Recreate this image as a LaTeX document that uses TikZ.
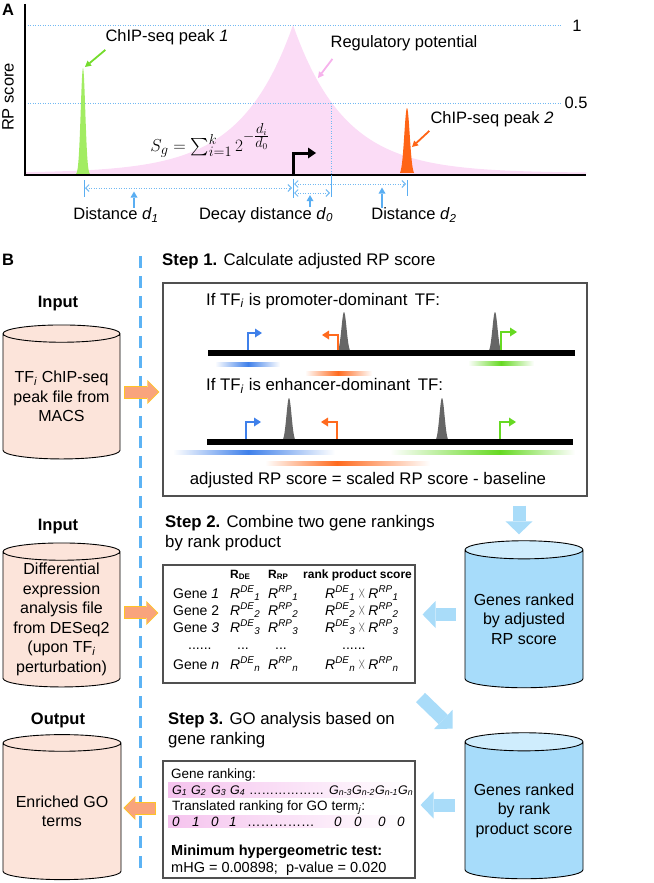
\documentclass[tikz,border=0pt]{standalone}
\usepackage{amsmath}
\usepackage{fontspec}
\setmainfont{Liberation Sans}
\usetikzlibrary{arrows.meta, positioning, shapes.geometric}

\definecolor{rppink}{HTML}{FBDCF6}
\definecolor{pkgreen}{HTML}{A2EC62}
\definecolor{callgreen}{HTML}{74DC2C}
\definecolor{pkorange}{HTML}{FF6416}
\definecolor{callpink}{HTML}{F6B2EC}
\definecolor{guideblue}{HTML}{72B9F2}
\definecolor{markblue}{HTML}{5AAEF2}
\definecolor{dashblue}{HTML}{5CB3F4}
\definecolor{inpink}{HTML}{FCE4DA}
\definecolor{genecyan}{HTML}{A7DCFA}
\definecolor{genetop}{HTML}{CFEDFD}
\definecolor{flowblue}{HTML}{A9DCF9}
\definecolor{flowsalmon}{HTML}{F9A47C}
\definecolor{flowgold}{HTML}{FFC425}
\definecolor{tssblue}{HTML}{3F80EA}
\definecolor{tssorange}{HTML}{FF6A1E}
\definecolor{tssgreen}{HTML}{66D922}
\definecolor{peakgray}{HTML}{666666}
\definecolor{bandpink}{HTML}{F5C3EE}
\definecolor{boxgray}{HTML}{505050}

\newcommand{\glowbar}[5]{%
  \shade[left color=white, right color=#5] (#1,#4-2) rectangle (#2,#4+2);
  \shade[left color=#5, right color=white] (#2,#4-2) rectangle (#3,#4+2);}
\newcommand{\bump}[5]{%
  \fill[#5] plot[domain=#1-7:#1+7, samples=41] (\x,{#2-#3*exp(0-((\x-#1)/#4)^2)}) -- cycle;}

\tikzset{
  txt/.style={inner sep=0pt},
  boldtxt/.style={inner sep=0pt, font=\fontsize{16.5}{19.8}\selectfont\bfseries},
  steptitle/.style={inner sep=0pt, anchor=west, align=left, font=\fontsize{16.8}{20}\selectfont},
  headcell/.style={inner sep=0pt, anchor=base west, font=\fontsize{12}{15}\selectfont\bfseries},
  rowcell/.style={inner sep=0pt, anchor=base west, font=\fontsize{14}{16}\selectfont},
  gocell/.style={inner sep=0pt, anchor=base west, font=\fontsize{13.5}{16}\selectfont},
  stepbox/.style={draw=boxgray, line width=1.1pt, inner sep=0pt},
  filecyl/.style={cylinder, shape border rotate=90, aspect=0.18, draw=black, line width=0.9pt,
                  cylinder uses custom fill, cylinder body fill=inpink, cylinder end fill=inpink,
                  minimum width=117pt, align=center, inner sep=0pt,
                  font=\fontsize{16}{19.5}\selectfont},
  genecyl/.style={filecyl, cylinder body fill=genecyan, cylinder end fill=genetop},
  flowarrow/.style={line width=13pt, draw=flowblue,
                    -{Triangle[length=13pt, width=27pt, line width=0pt]}},
  fileflow/.style={draw=flowsalmon, line width=11pt, shorten <=1pt, shorten >=1.4pt,
                   -{Triangle[length=10pt, width=20.5pt, line width=0pt]},
                   preaction={draw=flowgold, line width=13pt, shorten <=0pt, shorten >=0pt,
                              -{Triangle[length=12pt, width=24pt, line width=0pt]}}},
  tss/.style={line width=2.6pt, -{Triangle[length=7pt, width=9pt, line width=0pt]}},
  guideline/.style={draw=guideblue, line width=0.9pt, dash pattern=on 1.2pt off 1.3pt},
  spanline/.style={guideline, {Straight Barb[length=3.5pt, width=7pt]}-{Straight Barb[length=3.5pt, width=7pt]}},
  tickline/.style={draw=markblue, line width=0.9pt},
  upmark/.style={draw=markblue, line width=2pt, -{Triangle[length=6pt, width=7pt, line width=0pt]}},
  peakcall/.style={line width=1.8pt, -{Triangle[length=6pt, width=6.5pt, line width=0pt]}},
  divider/.style={draw=dashblue, line width=3pt, dash pattern=on 12pt off 8pt},
}

\begin{document}
\begin{tikzpicture}[x=1pt, y=-1pt, font=\fontsize{16.5}{19.8}\selectfont]
    \useasboundingbox (0,0) rectangle (653,883);
    \node[boldtxt] (tagA) at (8,10) {A};
    \fill[rppink] (25,175) -- plot[domain=25:293, samples=90] (\x,{173-148*2^((\x-293)/36)})
        -- plot[domain=293:586, samples=90] (\x,{173-148*2^((293-\x)/36)}) -- (586,175) -- cycle;
    \draw[guideline] (25,25) -- (562,25);
    \draw[guideline] (25,103) -- (562,103);
    \draw[guideline] (331,103) -- (331,175);
    \bump{83}{175}{107}{3.2}{pkgreen}
    \bump{407}{175}{67}{3.8}{pkorange}
    \draw[line width=2.4pt] (25,4) -- (25,176.2);
    \draw[line width=2.4pt] (23.8,175) -- (586,175);
    \draw[line width=3pt, -{Triangle[length=8pt, width=11pt, line width=0pt]}] (293,176) |- (316,153);
    \node[txt, rotate=90] (yname) at (8,97) {RP score};
    \node[txt] (one) at (577,26) {1};
    \node[txt] (half) at (576,103) {0.5};
    \node[txt] (peakA) at (167,37) {ChIP-seq peak \textit{1}};
    \node[txt] (rpot) at (404,43) {Regulatory potential};
    \node[txt] (peakB) at (492,119) {ChIP-seq peak \textit{2}};
    \coordinate (topA) at (85,67);
    \coordinate (topB) at (412,147);
    \coordinate (curve) at (318,78);
    \draw[peakcall, callgreen] (peakA.south west) ++(0,5) -- (topA);
    \draw[peakcall, callpink] (rpot.south west) ++(2,8) -- (curve);
    \draw[peakcall, pkorange] (peakB.south west) ++(-1,4) -- (topB);
    \node[txt, font=\fontsize{19}{22}\selectfont] (sgform) at (210,140) {$S_g=\sum_{i=1}^{k}2^{-\genfrac{}{}{}{1}{d_i}{d_0}}$};
    \node[txt] (dist1) at (116,215) {Distance \textit{d}\textsubscript{\textit{1}}};
    \node[txt] (decay) at (266,215) {Decay distance \textit{d}\textsubscript{\textit{0}}};
    \node[txt] (dist2) at (414,215) {Distance \textit{d}\textsubscript{\textit{2}}};
    \draw[tickline] (84,180) -- (84,197);
    \draw[tickline] (293,179) -- (293,198);
    \draw[tickline] (331,175) -- (331,197);
    \draw[tickline] (407,180) -- (407,196);
    \draw[spanline] (85,188) -- (292,188);
    \draw[spanline] (294,184) -- (406,184);
    \draw[spanline] (294,193) -- (330,193);
    \draw[upmark] (dist1.north) ++(18,0) -- ++(0,-16);
    \draw[upmark] (decay.north) ++(44,0) -- ++(0,-12);
    \draw[upmark] (dist2.north) ++(-32,0) -- ++(0,-20);

    \node[boldtxt] (tagB) at (8,260) {B};
    \draw[divider] (140,256) -- (140,875);
    \node[steptitle] (title1) at (162,261) {\textbf{Step 1.} Calculate adjusted RP score};
    \node[stepbox, minimum width=424pt, minimum height=213pt] (step1) at (375,389.5) {};
    \node[steptitle] (promo) at (206,301) {If TF\textsubscript{\textit{i}} is promoter-dominant\, TF:};
    \node[steptitle] (enhan) at (206,386) {If TF\textsubscript{\textit{i}} is enhancer-dominant\, TF:};
    \bump{344}{353}{41}{3.6}{peakgray}
    \bump{495}{353}{41}{3.6}{peakgray}
    \bump{289}{442}{44}{3.6}{peakgray}
    \bump{442}{442}{44}{3.6}{peakgray}
    \draw[line width=6.5pt] (208,353) -- (575,353);
    \draw[line width=6.5pt] (207,442) -- (573,442);
    \draw[tss, tssblue] (248,350) |- (262,333);
    \draw[tss, tssorange] (338,350) |- (322,335);
    \draw[tss, tssgreen] (501,350) |- (517,332);
    \draw[tss, tssblue] (246,439) |- (261,422);
    \draw[tss, tssorange] (337,439) |- (321,422);
    \draw[tss, tssgreen] (500,439) |- (516,422);
    \glowbar{215}{248}{280}{364}{tssblue}
    \glowbar{305}{338}{372}{373}{tssorange}
    \glowbar{468}{501}{534}{363}{tssgreen}
    \glowbar{173}{248}{335}{452}{tssblue}
    \glowbar{390}{500}{575}{452}{tssgreen}
    \glowbar{265}{337}{430}{463}{tssorange}
    \node[txt, font=\fontsize{16.8}{20}\selectfont] (adjust) at (368,480) {adjusted RP score = scaled RP score - baseline};

    \node[steptitle] (title2) at (165,533) {\textbf{Step 2.} Combine two gene rankings\\by rank product};
    \node[stepbox, minimum width=252pt, minimum height=118pt] (rankbox) at (289,624) {};
    \node[headcell] (hde) at (230,578) {R\textsubscript{DE}};
    \node[headcell] (hrp) at (268,578) {R\textsubscript{RP}};
    \node[headcell] (hprod) at (303,578) {rank product score};
    \foreach \g/\gl/\by [count=\r] in {1/\textit{1}/598, 2/2/615, 3/\textit{3}/632, n/\textit{n}/669} {
        \node[rowcell] (gene\r) at (173,\by) {Gene \gl};
        \node[rowcell] (rde\r) at (230,\by) {\textit{R\textsuperscript{DE}\textsubscript{\g}}};
        \node[rowcell] (rrp\r) at (268,\by) {\textit{R\textsuperscript{RP}\textsubscript{\g}}};
        \node[rowcell] (prod\r) at (325,\by) {\textit{R\textsuperscript{DE}\textsubscript{\g}}\,{\color{black!70}\scalebox{0.75}[1.35]{$\times$}}\,\textit{R\textsuperscript{RP}\textsubscript{\g}}};
    }
    \node[rowcell] (dotg) at (188,649) {......};
    \node[rowcell] (dotde) at (237,649) {...};
    \node[rowcell] (dotrp) at (275,649) {...};
    \node[rowcell] (dotpr) at (342,649) {......};

    \node[steptitle] (title3) at (168,730) {\textbf{Step 3.} GO analysis based on\\gene ranking};
    \node[stepbox, minimum width=252pt, minimum height=117pt] (gobox) at (289,819.5) {};
    \shade[left color=bandpink, right color=white] (168,782) rectangle (413,797);
    \shade[left color=bandpink, right color=white] (168,815) rectangle (407,827);
    \node[gocell] (rankhd) at (171,778) {Gene ranking:};
    \foreach \s/\gx [count=\k] in {1/172, 2/191, 3/211, 4/230, n-3/329, n-2/352, n-1/375, n/398}
        \node[gocell, font=\fontsize{12.5}{15}\selectfont\itshape] (gr\k) at (\gx,794) {G\textsubscript{\s}};
    \node[gocell, font=\fontsize{12.5}{15}\selectfont] (grdots) at (249,794) {………………};
    \node[gocell] (transhd) at (172,810) {Translated ranking for GO term\textsubscript{\textit{j}}:};
    \foreach \b/\bx [count=\k] in {0/172, 1/192, 0/211, 1/229, 0/334, 0/354, 0/378, 0/397}
        \node[gocell, font=\fontsize{13.5}{16}\selectfont\itshape] (bit\k) at (\bx,826) {\b};
    \node[gocell] (bitdots) at (247,826) {……………};
    \node[gocell, font=\fontsize{14.5}{17}\selectfont\bfseries] (mhghd) at (171,855) {Minimum hypergeometric test:};
    \node[gocell, font=\fontsize{14.5}{17}\selectfont] (mhgval) at (171,872) {mHG = 0.00898;\ \ p-value = 0.020};

    \node[boldtxt] (inlab1) at (58,304) {Input};
    \node[filecyl, minimum height=134pt] (macs) at (61.5,396.5) {TF\textsubscript{\textit{i}} ChIP-seq\\peak file from\\MACS};
    \node[boldtxt] (inlab2) at (58,527) {Input};
    \node[filecyl, minimum height=144pt] (deseq) at (61.5,619.5) {Differential\\expression\\analysis file\\from DESeq2\\(upon TF\textsubscript{\textit{i}}\\perturbation)};
    \node[boldtxt] (outlab) at (58,720) {Output};
    \node[filecyl, minimum width=118pt, minimum height=145pt] (goterms) at (62,811.5) {Enriched GO\\terms};
    \node[genecyl, minimum width=118pt, minimum height=147pt] (rpcyl) at (524,619) {Genes ranked\\by adjusted\\RP score};
    \node[genecyl, minimum width=118pt, minimum height=146pt] (rankcyl) at (524,810.5) {Genes ranked\\by rank\\product score};

    \path (macs.east) ++(4,-4.5) coordinate (f1a);
    \path (f1a -| step1.west) ++(-3,0) coordinate (f1b);
    \draw[fileflow] (f1a) -- (f1b);
    \path (deseq.east) ++(4,-6.5) coordinate (f2a);
    \path (f2a -| rankbox.west) ++(-4,0) coordinate (f2b);
    \draw[fileflow] (f2a) -- (f2b);
    \path (gobox.west) ++(-6,-11.5) coordinate (f3a);
    \path (f3a -| goterms.east) ++(2,0) coordinate (f3b);
    \draw[fileflow] (f3a) -- (f3b);
    \path (rpcyl.north) ++(-5,-6) coordinate (b0b);
    \path (b0b |- step1.south) ++(0,9) coordinate (b0a);
    \draw[flowarrow] (b0a) -- (b0b);
    \path (rpcyl.west) ++(-9,-4.5) coordinate (b1a);
    \path (b1a -| rankbox.east) ++(7,0) coordinate (b1b);
    \draw[flowarrow] (b1a) -- (b1b);
    \path (rankbox.south east) ++(5,14) coordinate (b2a);
    \draw[flowarrow] (b2a) -- ++(32,31);
    \path (rankcyl.west) ++(-10,-5.5) coordinate (b3a);
    \path (b3a -| gobox.east) ++(5,0) coordinate (b3b);
    \draw[flowarrow] (b3a) -- (b3b);
\end{tikzpicture}
\end{document}
